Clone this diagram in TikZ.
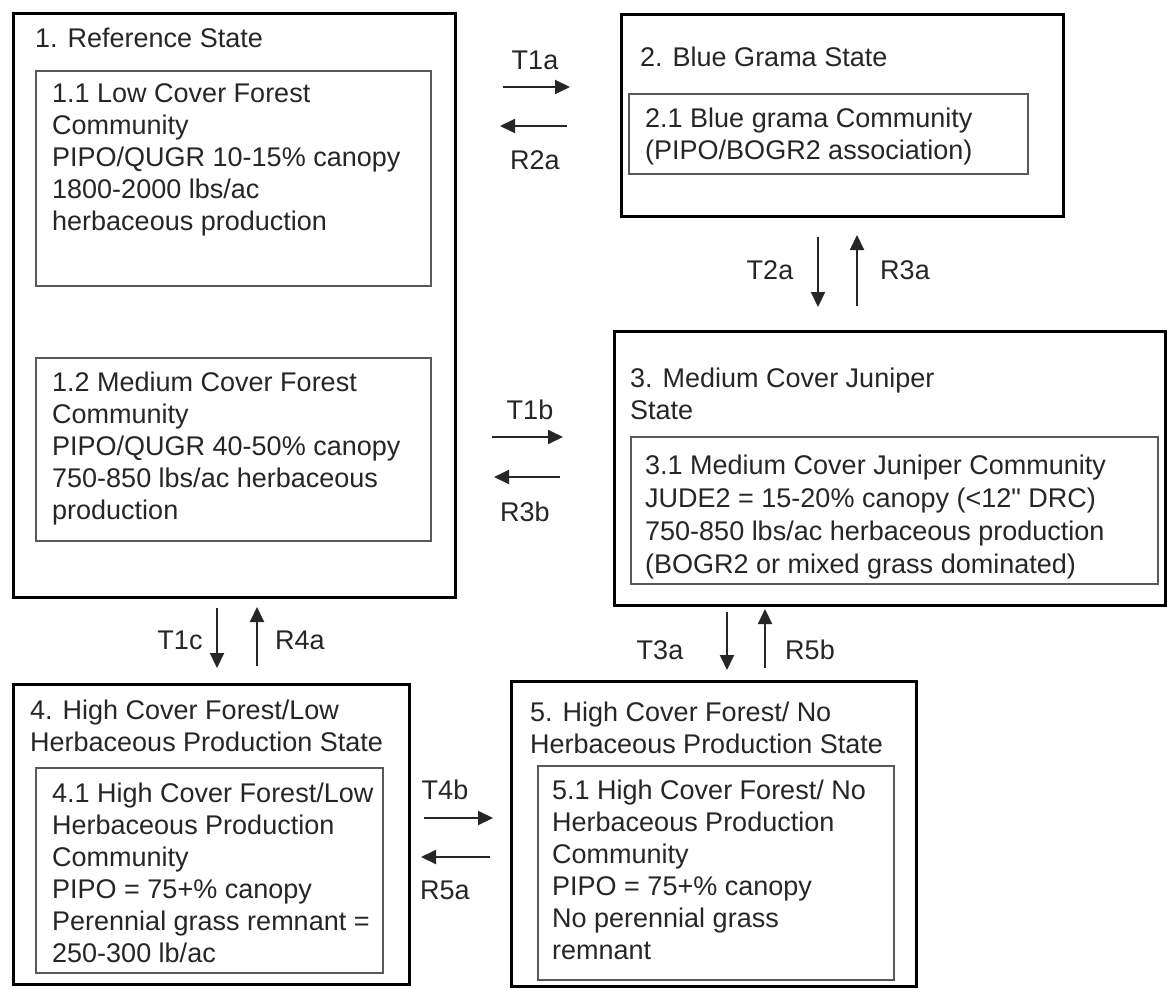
\documentclass[tikz,border=0pt]{standalone}
\usepackage{fontspec}
\setmainfont{Liberation Sans}
\usetikzlibrary{arrows.meta}
\tikzset{
  box/.style={rectangle, anchor=north west, inner sep=0pt},
  outerbox/.style={box, draw=black, line width=2.6pt},
  innerbox/.style={box, draw=black!65, line width=1.8pt},
  txt/.style={anchor=base west, inner sep=0pt, text=black!85},
  lbl/.style={inner sep=0pt, text=black!85, font=\fontsize{27}{32}\selectfont},
  arr/.style={line width=2pt, draw=black!85, -{Triangle[length=15pt,width=14pt]}},
}
\newcommand\blk[2][32]{\parbox[t]{600pt}{\fontsize{27}{#1}\selectfont\raggedright #2}}
\begin{document}
\begin{tikzpicture}[x=1pt,y=-1pt]
\useasboundingbox (0,0) rectangle (1167,988);
\fill[white] (0,0) rectangle (1167,988);
% State boxes
\node (s1) [outerbox, minimum width=442pt, minimum height=584pt] at (12,12) {};
\node (c11) [innerbox, minimum width=395pt, minimum height=215pt] at (35,70) {};
\node (c12) [innerbox, minimum width=395pt, minimum height=183pt] at (35,357) {};
\node (s2) [outerbox, minimum width=442pt, minimum height=202pt] at (620,13) {};
\node (c21) [innerbox, minimum width=399pt, minimum height=80pt] at (628,93) {};
\node (s3) [outerbox, minimum width=551pt, minimum height=274pt] at (613,330) {};
\node (c31) [innerbox, minimum width=527pt, minimum height=147pt] at (630,436) {};
\node (s4) [outerbox, minimum width=396pt, minimum height=300pt] at (12,683) {};
\node (c41) [innerbox, minimum width=347pt, minimum height=205pt] at (35,767) {};
\node (s5) [outerbox, minimum width=405pt, minimum height=305pt] at (510,680) {};
\node (c51) [innerbox, minimum width=356pt, minimum height=214pt] at (537,765) {};
% Texts
\node (t1) [txt] at (35,47) {\blk{1. Reference State}};
\node (t11) [txt] at (52,102) {\blk{1.1 Low Cover Forest\\Community\\PIPO/QUGR 10-15\% canopy\\1800-2000 lbs/ac\\herbaceous production}};
\node (t12) [txt] at (52,391) {\blk{1.2 Medium Cover Forest\\Community\\PIPO/QUGR 40-50\% canopy\\750-850 lbs/ac herbaceous\\production}};
\node (t2) [txt] at (640,66) {\blk{2. Blue Grama State}};
\node (t21) [txt] at (645,127) {\blk{2.1 Blue grama Community\\(PIPO/BOGR2 association)}};
\node (t3) [txt] at (630,387) {\blk{3. Medium Cover Juniper\\State}};
\node (t31) [txt] at (645,474) {\blk[33]{3.1 Medium Cover Juniper Community\\JUDE2 = 15-20\% canopy (<12\textquotedbl{} DRC)\\750-850 lbs/ac herbaceous production\\(BOGR2 or mixed grass dominated)}};
\node (t4) [txt] at (30,719) {\blk{4. High Cover Forest/Low\\Herbaceous Production State}};
\node (t41) [txt] at (52,802) {\blk{4.1 High Cover Forest/Low\\Herbaceous Production\\Community\\PIPO = 75+\% canopy\\Perennial grass remnant =\\250-300 lb/ac}};
\node (t5) [txt] at (530,721) {\blk{5. High Cover Forest/ No\\Herbaceous Production State}};
\node (t51) [txt] at (552,799) {\blk{5.1 High Cover Forest/ No\\Herbaceous Production\\Community\\PIPO = 75+\% canopy\\No perennial grass\\remnant}};
% Arrow end points
\coordinate (a1s) at (503,87);  \coordinate (a1e) at (570,87);
\coordinate (a2s) at (567,126); \coordinate (a2e) at (500,126);
\coordinate (a3s) at (492,437); \coordinate (a3e) at (563,437);
\coordinate (a4s) at (560,477); \coordinate (a4e) at (494,477);
\coordinate (a5s) at (818,237); \coordinate (a5e) at (818,307);
\coordinate (a6s) at (857,306); \coordinate (a6e) at (857,235);
\coordinate (a7s) at (217,608); \coordinate (a7e) at (217,668);
\coordinate (a8s) at (257,666); \coordinate (a8e) at (257,607);
\coordinate (a9s) at (727,612); \coordinate (a9e) at (727,670);
\coordinate (a10s) at (765,668); \coordinate (a10e) at (765,609);
\coordinate (a11s) at (424,818); \coordinate (a11e) at (493,818);
\coordinate (a12s) at (490,857); \coordinate (a12e) at (421,857);
\draw[arr] (a1s) -- (a1e);
\draw[arr] (a2s) -- (a2e);
\draw[arr] (a3s) -- (a3e);
\draw[arr] (a4s) -- (a4e);
\draw[arr] (a5s) -- (a5e);
\draw[arr] (a6s) -- (a6e);
\draw[arr] (a7s) -- (a7e);
\draw[arr] (a8s) -- (a8e);
\draw[arr] (a9s) -- (a9e);
\draw[arr] (a10s) -- (a10e);
\draw[arr] (a11s) -- (a11e);
\draw[arr] (a12s) -- (a12e);
% Labels
\node (l1) [lbl] at (535,60) {T1a};
\node (l2) [lbl] at (535,160) {R2a};
\node (l3) [lbl] at (530,410) {T1b};
\node (l4) [lbl] at (525,512) {R3b};
\node (l5) [lbl] at (770,270) {T2a};
\node (l6) [lbl] at (905,270) {R3a};
\node (l7) [lbl] at (180,640) {T1c};
\node (l8) [lbl] at (300,640) {R4a};
\node (l9) [lbl] at (660,650) {T3a};
\node (l10) [lbl] at (810,650) {R5b};
\node (l11) [lbl] at (445,790) {T4b};
\node (l12) [lbl] at (445,890) {R5a};
\end{tikzpicture}
\end{document}
